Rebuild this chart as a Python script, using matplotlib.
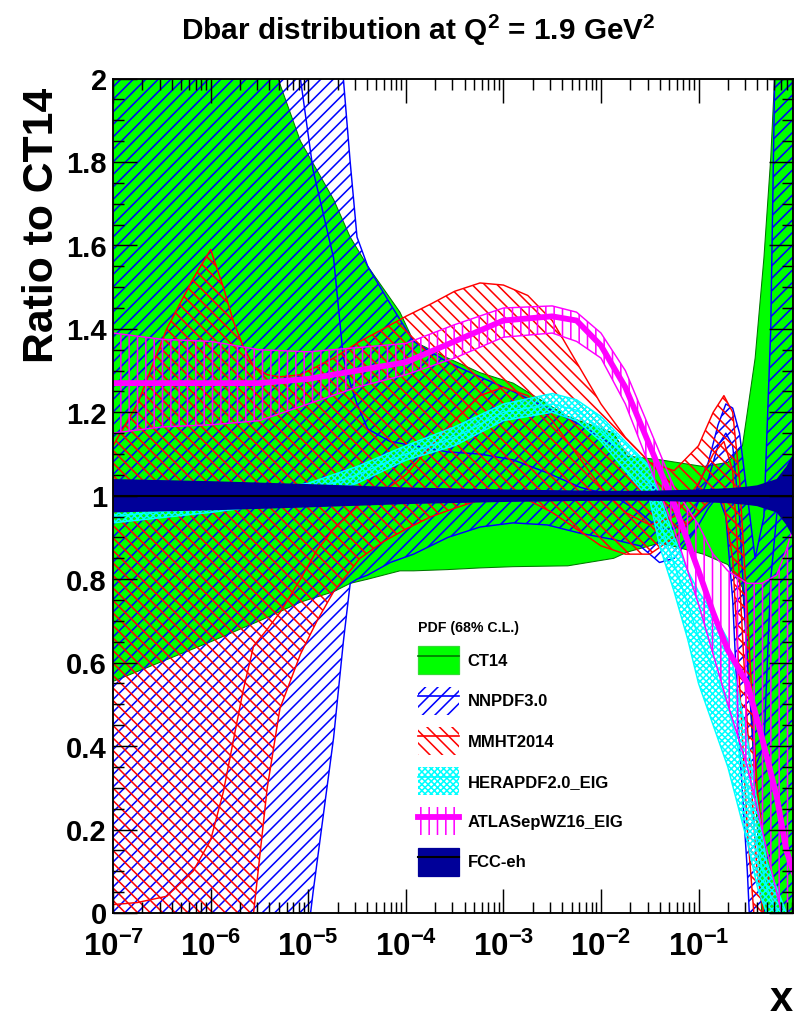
import numpy as np
import matplotlib
matplotlib.use('Agg')
import matplotlib.pyplot as plt
from matplotlib.patches import Patch
from matplotlib.lines import Line2D
from matplotlib.ticker import MultipleLocator, LogLocator, NullFormatter, FormatStrFormatter

plt.rcParams['font.family'] = ['Liberation Sans', 'DejaVu Sans']
plt.rcParams['mathtext.fontset'] = 'custom'
plt.rcParams['mathtext.rm'] = 'Liberation Sans:bold'
plt.rcParams['mathtext.bf'] = 'Liberation Sans:bold'
plt.rcParams['hatch.linewidth'] = 0.75

# ---- data: log10(x) grids and ratio to CT14 ----
# CT14
ct_lx = [-7, -6, -5.5, -5.31, -5.08, -4.74, -4.57, -4.39, -4.06, -3.92, -3.57, -3.24, -2.9, -2.34,
         -1.87, -1.73, -1.39, -0.95, -0.7, -0.55, -0.5, -0.42, -0.33, -0.26, -0.2, -0.1, 0]
ct_up = [2.6, 2.6, 2.3, 2.0, 1.85, 1.71, 1.62, 1.55, 1.44, 1.37, 1.33, 1.295, 1.27, 1.19,
         1.15, 1.095, 1.086, 1.07, 1.08, 1.12, 1.2, 1.33, 1.57, 1.81, 2.1, 2.6, 2.6]
ct_lo = [0.555, 0.65, 0.70, 0.72, 0.745, 0.77, 0.79, 0.80, 0.82, 0.82, 0.823, 0.827, 0.83, 0.832,
         0.85, 0.865, 0.887, 0.86, 0.835, 0.78, 0.62, 0.3, -0.1, -0.5, -0.5, -0.5, -0.5]

# NNPDF3.0
nn_lx = [-7, -5.2, -5.08, -4.95, -4.74, -4.64, -4.57, -4.5, -4.39, -4.16, -3.92, -3.57, -3.24, -2.9,
         -2.55, -2.21, -1.87, -1.6, -1.4, -1.25, -1.05, -0.9, -0.8, -0.72, -0.65, -0.58, -0.5, -0.42,
         -0.33, -0.26, -0.18, -0.1, 0]
nn_up = [2.6, 2.6, 2.6, 2.6, 2.3, 2.0, 1.80, 1.62, 1.55, 1.46, 1.37, 1.32, 1.285, 1.25,
         1.21, 1.17, 1.12, 1.06, 1.0, 0.98, 1.0, 1.08, 1.17, 1.22, 1.21, 1.15, 1.0, 0.85,
         0.95, 1.4, 2.6, 2.6, 2.6]
nn_c = [2.6, 2.3, 2.0, 1.78, 1.57, 1.33, 1.27, 1.22, 1.16, 1.13, 1.12, 1.105, 1.10, 1.086,
        1.055, 1.02, 1.0, 0.96, 0.92, 0.92, 0.96, 1.04, 1.12, 1.15, 1.12, 0.95, 0.6, 0.35,
        0.4, 0.8, 1.0, 1.0, 1.0]
nn_lo = [-0.5, -0.5, -0.2, 0.05, 0.42, 0.65, 0.79, 0.80, 0.81, 0.84, 0.86, 0.90, 0.925, 0.935,
         0.93, 0.91, 0.895, 0.88, 0.84, 0.85, 0.91, 0.97, 1.0, 0.95, 0.75, 0.4, 0.1, -0.3,
         -0.5, -0.5, -0.5, -0.5, -0.5]

# MMHT2014
mm_lx = [-7, -6.75, -6.45, -6.18, -6.0, -5.87, -5.77, -5.67, -5.56, -5.42, -5.29, -5.08, -4.91,
         -4.74, -4.47, -4.23, -4.0, -3.74, -3.5, -3.24, -3.0, -2.75, -2.5, -2.25, -2.0, -1.75,
         -1.5, -1.25, -1.0, -0.85, -0.74, -0.65, -0.58, -0.5, -0.4, -0.3, -0.2, -0.1, 0]
mm_up = [1.12, 1.22, 1.40, 1.52, 1.59, 1.50, 1.42, 1.36, 1.31, 1.29, 1.285, 1.29, 1.31,
         1.33, 1.37, 1.40, 1.43, 1.46, 1.49, 1.51, 1.505, 1.48, 1.42, 1.32, 1.22, 1.14,
         1.08, 1.06, 1.12, 1.20, 1.24, 1.20, 1.04, 0.72, 0.3, 0.1, 0.0, 0.0, 0.0]
mm_c = [0.02, 0.025, 0.04, 0.10, 0.175, 0.29, 0.41, 0.53, 0.64, 0.68, 0.72, 0.80, 0.87,
        0.92, 0.98, 1.01, 1.05, 1.12, 1.18, 1.24, 1.26, 1.24, 1.18, 1.10, 1.02, 0.96,
        0.93, 0.95, 1.03, 1.10, 1.13, 1.06, 0.8, 0.45, 0.1, -0.05, -0.1, -0.1, -0.1]
mm_lo = [-0.3, -0.3, -0.3, -0.3, -0.3, -0.3, -0.3, -0.2, 0.0, 0.30, 0.49, 0.62, 0.70,
         0.77, 0.85, 0.89, 0.92, 0.95, 0.97, 0.99, 1.0, 0.99, 0.96, 0.92, 0.88, 0.86,
         0.86, 0.90, 0.96, 1.0, 0.98, 0.85, 0.55, 0.2, -0.1, -0.3, -0.3, -0.3, -0.3]

# HERAPDF2.0_EIG
hp_lx = [-7, -6, -5, -4.5, -4, -3.5, -3, -2.5, -2.25, -2, -1.75, -1.5, -1.4, -1.25, -1.11,
         -1.0, -0.85, -0.7, -0.5, -0.39, -0.3, -0.19, -0.1, 0]
hp_up = [0.97, 0.99, 1.03, 1.07, 1.12, 1.165, 1.22, 1.245, 1.23, 1.19, 1.13, 1.07, 1.0, 0.90, 0.82,
         0.77, 0.72, 0.655, 0.42, 0.25, 0.12, 0.055, 0.0, -0.05]
hp_c = [0.95, 0.975, 1.01, 1.05, 1.10, 1.14, 1.20, 1.22, 1.205, 1.16, 1.095, 1.03, 0.94, 0.835, 0.74,
        0.66, 0.585, 0.50, 0.30, 0.15, 0.06, 0.0, -0.05, -0.08]
hp_lo = [0.935, 0.96, 0.99, 1.03, 1.085, 1.12, 1.18, 1.20, 1.18, 1.13, 1.06, 0.99, 0.88, 0.77, 0.655,
         0.55, 0.45, 0.35, 0.17, 0.055, 0.0, -0.05, -0.1, -0.1]

# ATLASepWZ16_EIG
at_lx = [-7, -6.5, -6, -5.5, -5, -4.5, -4, -3.5, -3, -2.5, -2.25, -2, -1.75, -1.5, -1.25, -1.0,
         -0.85, -0.7, -0.5, -0.35, -0.2, -0.1, 0]
at_up = [1.39, 1.375, 1.37, 1.35, 1.345, 1.355, 1.365, 1.41, 1.45, 1.455, 1.44, 1.39, 1.30, 1.16,
         1.02, 0.93, 0.86, 0.82, 0.79, 0.79, 0.81, 0.87, 0.95]
at_c = [1.27, 1.27, 1.27, 1.27, 1.28, 1.30, 1.32, 1.37, 1.42, 1.43, 1.42, 1.36, 1.26, 1.12,
        0.98, 0.82, 0.72, 0.63, 0.55, 0.42, 0.28, 0.15, 0.08]
at_lo = [1.15, 1.165, 1.17, 1.18, 1.22, 1.26, 1.29, 1.33, 1.38, 1.39, 1.37, 1.33, 1.22, 1.07,
         0.92, 0.74, 0.62, 0.50, 0.35, 0.2, 0.05, -0.05, -0.1]

# FCC-eh
fcc_lx = [-7, -6, -5, -4, -3, -2, -1.5, -1, -0.7, -0.5, -0.4, -0.2, -0.1, -0.03, 0]
fcc_up = [1.04, 1.035, 1.028, 1.02, 1.015, 1.012, 1.012, 1.015, 1.018, 1.022, 1.025, 1.04, 1.07, 1.10, 1.12]
fcc_lo = [0.96, 0.965, 0.972, 0.98, 0.985, 0.988, 0.988, 0.985, 0.982, 0.978, 0.975, 0.96, 0.93, 0.90, 0.88]

labels = ['CT14', 'NNPDF3.0', 'MMHT2014', 'HERAPDF2.0_EIG', 'ATLASepWZ16_EIG', 'FCC-eh']

DPI = 150
fig = plt.figure(figsize=(803.5 / DPI, 1021.5 / DPI), dpi=DPI)
ax = fig.add_axes([113 / 803, 1 - 913 / 1021, 680 / 803, 834 / 1021])

def lx2x(lx):
    return np.power(10.0, np.asarray(lx, dtype=float))

# CT14 green band
x = lx2x(ct_lx)
ax.fill_between(x, ct_lo, ct_up, facecolor='#00ff00', edgecolor='none', lw=0, zorder=1)
ax.plot(x, ct_up, color='#007700', lw=0.5, zorder=1.1)
ax.plot(x, ct_lo, color='#007700', lw=0.5, zorder=1.1)

# hatched bands
def hatched(lx, lo, c, up, color, hatch, z, clw=0.7):
    x = lx2x(lx)
    ax.fill_between(x, lo, up, facecolor='none', edgecolor=color, hatch=hatch, lw=0, zorder=z)
    ax.plot(x, lo, color=color, lw=0.7, zorder=z + 0.1)
    ax.plot(x, up, color=color, lw=0.7, zorder=z + 0.1)
    ax.plot(x, c, color=color, lw=clw, zorder=z + 0.1)

nn_hatch = '////'
mm_hatch = '\\\\\\\\'
hp_hatch = 'xxxxxxxx'
at_hatch = '|||'
hatched(nn_lx, nn_lo, nn_c, nn_up, '#0000ff', nn_hatch, 2)
hatched(mm_lx, mm_lo, mm_c, mm_up, '#ff0000', mm_hatch, 3)
hatched(hp_lx, hp_lo, hp_c, hp_up, '#00ffff', hp_hatch, 4)
hatched(at_lx, at_lo, at_c, at_up, '#ff00ff', at_hatch, 5, clw=2.8)

# FCC-eh navy band
x = lx2x(fcc_lx)
ax.fill_between(x, fcc_lo, fcc_up, facecolor='#000099', edgecolor='none', lw=0, zorder=6)
ax.axhline(1.0, color='black', lw=1.0, zorder=6.1)

ax.set_xscale('log')
ax.set_xlim(1e-7, 0.94)
ax.set_ylim(0, 2)

ax.set_xticks([1e-7, 1e-6, 1e-5, 1e-4, 1e-3, 1e-2, 1e-1])
ax.set_xticklabels([r'$\mathbf{10^{-%d}}$' % k for k in range(7, 0, -1)], fontsize=15)
ax.xaxis.set_minor_locator(LogLocator(base=10, subs=np.arange(2, 10), numticks=30))
ax.xaxis.set_minor_formatter(NullFormatter())
ax.yaxis.set_major_locator(MultipleLocator(0.2))
ax.yaxis.set_minor_locator(MultipleLocator(0.05))
ax.yaxis.set_major_formatter(FormatStrFormatter('%g'))
for t in ax.get_yticklabels():
    t.set_fontweight('bold')
    t.set_fontsize(14)

ax.tick_params(which='both', direction='in', top=True, right=True, width=0.7)
ax.tick_params(which='major', length=11.5)
ax.tick_params(which='minor', length=5.5)
ax.tick_params(axis='x', which='major', pad=9)
ax.tick_params(axis='y', which='major', pad=3)
for s in ax.spines.values():
    s.set_linewidth(0.9)
    s.set_zorder(10)
ax.xaxis.set_zorder(10)
ax.yaxis.set_zorder(10)

# legend
handles = [
    (Patch(facecolor='#00ff00', edgecolor='#33dd33', lw=0.6), Line2D([], [], color='#007700', lw=0.8)),
    (Patch(facecolor='none', edgecolor='#0000ff', hatch=nn_hatch, lw=0), Line2D([], [], color='#0000ff', lw=0.8)),
    (Patch(facecolor='none', edgecolor='#ff0000', hatch=mm_hatch, lw=0), Line2D([], [], color='#ff0000', lw=0.8)),
    (Patch(facecolor='none', edgecolor='#00ffff', hatch=hp_hatch, lw=0), Line2D([], [], color='#00ffff', lw=0.8)),
    (Patch(facecolor='none', edgecolor='#ff00ff', hatch=at_hatch, lw=0), Line2D([], [], color='#ff00ff', lw=2.8)),
    (Patch(facecolor='#000099', edgecolor='#000099', lw=0.6), Line2D([], [], color='black', lw=1.0)),
]
leg = ax.legend(handles, labels, loc='upper left', bbox_to_anchor=(0.416, 0.377),
                frameon=False, prop={'weight': 'bold', 'size': 8},
                title='PDF (68% C.L.)', title_fontproperties={'weight': 'bold', 'size': 6.8},
                alignment='left', handlelength=2.5, handleheight=2.2, labelspacing=0.74,
                handletextpad=0.5, borderpad=1.3, borderaxespad=0)
leg.set_zorder(11)

fig.text(0.52, 1 - 30 / 1021, 'Dbar distribution at Q$^2$ = 1.9 GeV$^2$', ha='center', va='center',
         fontsize=14.3, fontweight='bold')
fig.text(42 / 803, 1 - 225 / 1021, 'Ratio to CT14', rotation=90, ha='center', va='center',
         fontsize=20.5, fontweight='bold')
fig.text(781 / 803, 1 - 1000 / 1021, 'x', ha='center', va='center', fontsize=20, fontweight='bold')

fig.savefig('out.png', dpi=DPI)
